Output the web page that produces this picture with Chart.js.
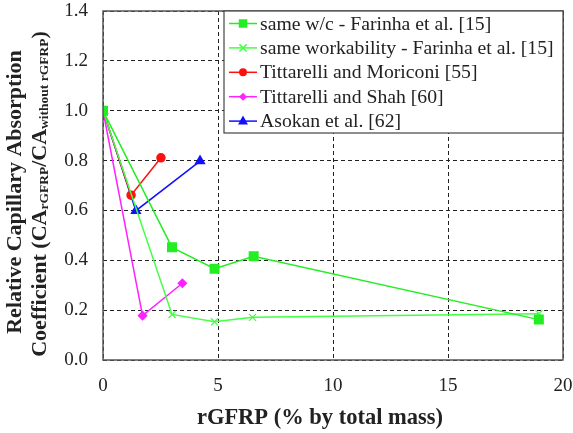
<!DOCTYPE html>
<html>
<head>
<meta charset="utf-8">
<script src="https://cdn.jsdelivr.net/npm/chart.js@4"></script>
<style>
  html, body { margin: 0; padding: 0; background: #fff; }
  #wrap { width: 573px; height: 433px; }
</style>
</head>
<body>
<div id="wrap"><canvas id="myChart" width="573" height="433"></canvas></div>
<script>
// Values
const wcX = [0, 3.0, 4.85, 6.55, 18.95];
const wcY = [1.0, 0.452, 0.366, 0.416, 0.162];

const workX = [0, 3.0, 4.85, 6.5, 18.95];
const workY = [1.0, 0.183, 0.153, 0.171, 0.186];

const moriconiX = [0, 1.22, 2.52];
const moriconiY = [1.0, 0.661, 0.811];

const shahX = [0, 1.72, 3.45];
const shahY = [1.0, 0.178, 0.308];

const asokanX = [0, 1.43, 4.22];
const asokanY = [1.0, 0.599, 0.798];

const seriesLabels = [
    'same w/c - Farinha et al. [15]',
    'same workability - Farinha et al. [15]',
    'Tittarelli and Moriconi [55]',
    'Tittarelli and Shah [60]',
    'Asokan et al. [62]'
];

const xTitle = 'rGFRP (% by total mass)';
const serif = "'Liberation Serif', 'Times New Roman', serif";

function toPoints(xs, ys) {
    return xs.map((x, i) => ({x: x, y: ys[i]}));
}

// small marker drawer, used for the legend samples
function marker(ctx, style, x, y, r, color) {
    ctx.save();
    ctx.fillStyle = color;
    ctx.strokeStyle = color;
    ctx.lineWidth = 1.5;
    ctx.beginPath();
    if (style === 'rect') {
        const s = r * Math.SQRT1_2;
        ctx.rect(x - s, y - s, 2 * s, 2 * s);
        ctx.fill();
    } else if (style === 'crossRot') {
        const s = r * Math.SQRT1_2;
        ctx.moveTo(x - s, y - s); ctx.lineTo(x + s, y + s);
        ctx.moveTo(x + s, y - s); ctx.lineTo(x - s, y + s);
        ctx.stroke();
    } else if (style === 'circle') {
        ctx.arc(x, y, r, 0, Math.PI * 2);
        ctx.fill();
    } else if (style === 'rectRot') {
        ctx.moveTo(x, y - r); ctx.lineTo(x + r, y); ctx.lineTo(x, y + r); ctx.lineTo(x - r, y);
        ctx.closePath();
        ctx.fill();
    } else if (style === 'triangle') {
        ctx.moveTo(x, y - r); ctx.lineTo(x + r * 0.9, y + r * 0.6); ctx.lineTo(x - r * 0.9, y + r * 0.6);
        ctx.closePath();
        ctx.fill();
    }
    ctx.restore();
}

// frame, legend box and axis titles
const decorations = {
    id: 'decorations',
    afterDatasetsDraw(chart) {
        const ctx = chart.ctx;
        const a = chart.chartArea;

        // plot frame
        ctx.save();
        ctx.strokeStyle = '#555';
        ctx.lineWidth = 1.5;
        ctx.strokeRect(a.left, a.top, a.right - a.left, a.bottom - a.top);
        ctx.restore();

        // legend box in the top right corner
        const boxL = 224, boxT = a.top, boxR = a.right, boxB = 133;
        ctx.save();
        ctx.fillStyle = '#fff';
        ctx.fillRect(boxL, boxT, boxR - boxL, boxB - boxT);
        ctx.strokeStyle = '#444';
        ctx.lineWidth = 1.2;
        ctx.strokeRect(boxL, boxT, boxR - boxL, boxB - boxT);
        ctx.font = '19.7px ' + serif;
        ctx.textBaseline = 'middle';
        ctx.textAlign = 'left';
        chart.data.datasets.forEach((ds, i) => {
            const y = 23.5 + i * 24.4;
            ctx.strokeStyle = ds.borderColor;
            ctx.lineWidth = 1.5;
            ctx.beginPath();
            ctx.moveTo(229, y);
            ctx.lineTo(257, y);
            ctx.stroke();
            marker(ctx, ds.pointStyle, 243, y, ds.legendRadius, ds.borderColor);
            ctx.fillStyle = '#222';
            ctx.fillText(ds.label, 260, y + 1);
        });
        ctx.restore();

        // x axis title
        ctx.save();
        ctx.fillStyle = '#222';
        ctx.font = 'bold 22.5px ' + serif;
        ctx.textAlign = 'center';
        ctx.textBaseline = 'middle';
        ctx.fillText(xTitle, 320, 418);
        ctx.restore();

        // y axis title, two rotated lines, second with subscripts
        ctx.save();
        ctx.fillStyle = '#222';
        ctx.rotate(-Math.PI / 2);
        ctx.textBaseline = 'middle';
        ctx.textAlign = 'center';
        ctx.font = 'bold 22px ' + serif;
        ctx.fillText('Relative Capillary Absorption', -192, 15);

        const parts = [
            {t: 'Coefficient (CA', sub: false},
            {t: 'rGFRP', sub: true},
            {t: '/CA', sub: false},
            {t: 'without rGFRP', sub: true},
            {t: ')', sub: false}
        ];
        const big = 'bold 22px ' + serif, small = 'bold 13.5px ' + serif;
        let total = 0;
        parts.forEach(p => { ctx.font = p.sub ? small : big; p.w = ctx.measureText(p.t).width; total += p.w; });
        let cx = -194 - total / 2;
        ctx.textAlign = 'left';
        parts.forEach(p => {
            ctx.font = p.sub ? small : big;
            ctx.fillText(p.t, cx, p.sub ? 45 : 40);
            cx += p.w;
        });
        ctx.restore();
    }
};

function noPad(s) {
    s.paddingLeft = 0;
    s.paddingRight = 0;
    s.paddingTop = 0;
    s.paddingBottom = 0;
}

const ctx = document.getElementById('myChart').getContext('2d');

new Chart(ctx, {
    type: 'line',
    data: {
        datasets: [{
            label: seriesLabels[0],
            data: toPoints(wcX, wcY),
            borderColor: '#22ee22',
            backgroundColor: '#22ee22',
            pointStyle: 'rect',
            pointRadius: 6,
            legendRadius: 6,
            borderWidth: 1.5
        }, {
            label: seriesLabels[1],
            data: toPoints(workX, workY),
            borderColor: '#44ff44',
            backgroundColor: '#44ff44',
            pointStyle: 'crossRot',
            pointRadius: 5,
            legendRadius: 5,
            pointBorderWidth: 1.3,
            borderWidth: 1.5
        }, {
            label: seriesLabels[2],
            data: toPoints(moriconiX, moriconiY),
            borderColor: '#ff1010',
            backgroundColor: '#ff1010',
            pointStyle: 'circle',
            pointRadius: 4,
            legendRadius: 4,
            borderWidth: 1.5
        }, {
            label: seriesLabels[3],
            data: toPoints(shahX, shahY),
            borderColor: '#ff22ff',
            backgroundColor: '#ff22ff',
            pointStyle: 'rectRot',
            pointRadius: 4,
            legendRadius: 4,
            borderWidth: 1.5
        }, {
            label: seriesLabels[4],
            data: toPoints(asokanX, asokanY),
            borderColor: '#1010ff',
            backgroundColor: '#1010ff',
            pointStyle: 'triangle',
            pointRadius: 5,
            legendRadius: 5.5,
            borderWidth: 1.5
        }]
    },
    options: {
        responsive: false,
        animation: false,
        devicePixelRatio: 1,
        layout: {
            padding: {top: 11, right: 10, left: 0, bottom: 0}
        },
        scales: {
            x: {
                type: 'linear',
                min: 0,
                max: 20,
                afterFit: s => { s.height = 73; noPad(s); },
                ticks: {
                    stepSize: 5,
                    color: '#222',
                    padding: 15,
                    maxRotation: 0,
                    font: {family: serif, size: 19}
                },
                grid: {
                    drawTicks: false,
                    color: '#222',
                    lineWidth: 1
                },
                border: {display: false, dash: [4, 3]}
            },
            y: {
                min: 0,
                max: 1.4,
                afterFit: s => { s.width = 103; noPad(s); },
                ticks: {
                    stepSize: 0.2,
                    color: '#222',
                    padding: 15,
                    font: {family: serif, size: 19},
                    callback: v => v.toFixed(1)
                },
                grid: {
                    drawTicks: false,
                    color: '#222',
                    lineWidth: 1
                },
                border: {display: false, dash: [4, 3]}
            }
        },
        plugins: {
            legend: {display: false},
            tooltip: {enabled: false}
        }
    },
    plugins: [decorations]
});
</script>
</body>
</html>
